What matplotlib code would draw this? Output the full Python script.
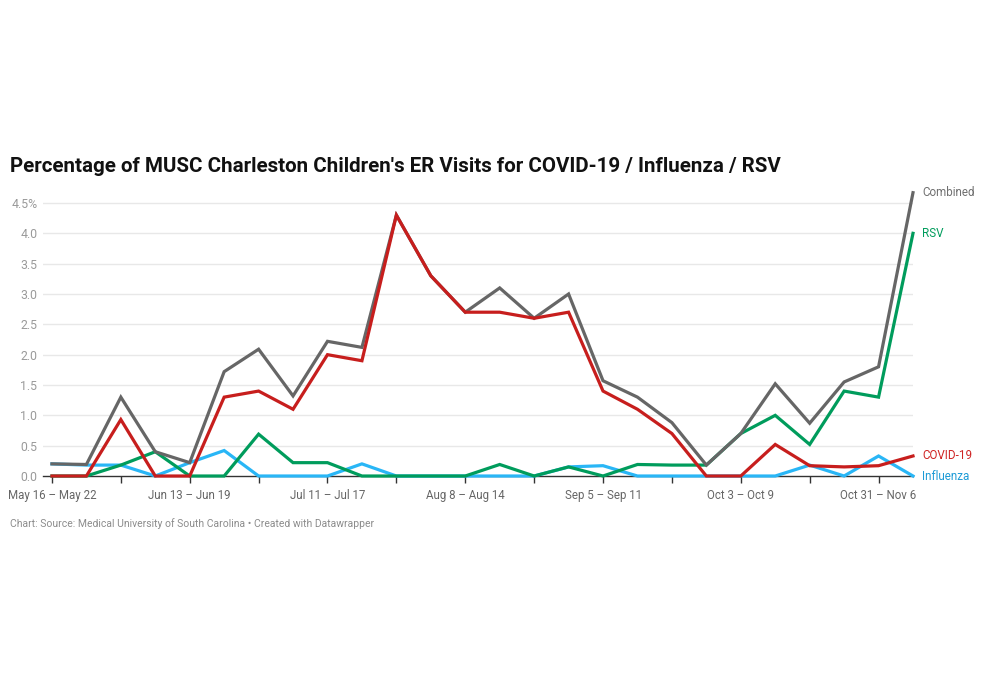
import matplotlib.pyplot as plt

plt.rcParams['font.family'] = ['Roboto', 'DejaVu Sans']

# weekly values, May 16 - May 22 through Nov 7 - Nov 13
weeks = list(range(26))
tick_labels = {0: "May 16 – May 22", 4: "Jun 13 – Jun 19", 8: "Jul 11 – Jul 17",
               12: "Aug 8 – Aug 14", 16: "Sep 5 – Sep 11", 20: "Oct 3 – Oct 9",
               24: "Oct 31 – Nov 6"}

combined = [0.2, 0.19, 1.3, 0.4, 0.22, 1.72, 2.09, 1.32, 2.22, 2.12, 4.3, 3.3, 2.7,
            3.1, 2.6, 3.0, 1.57, 1.3, 0.88, 0.18, 0.7, 1.52, 0.87, 1.55, 1.8, 4.67]
covid = [0, 0, 0.93, 0, 0, 1.3, 1.4, 1.1, 2.0, 1.9, 4.3, 3.3, 2.7,
         2.7, 2.6, 2.7, 1.4, 1.1, 0.7, 0, 0, 0.52, 0.17, 0.15, 0.17, 0.33]
rsv = [0, 0, 0.18, 0.4, 0, 0, 0.69, 0.22, 0.22, 0, 0, 0, 0,
       0.19, 0, 0.15, 0, 0.19, 0.18, 0.18, 0.7, 1.0, 0.52, 1.4, 1.3, 4.0]
flu = [0.2, 0.18, 0.18, 0, 0.22, 0.42, 0, 0, 0, 0.2, 0, 0, 0,
       0, 0, 0.15, 0.17, 0, 0, 0, 0, 0, 0.18, 0, 0.33, 0]

fig = plt.figure(figsize=(10, 6.85), dpi=100)
ax = fig.add_axes([0.043, 0.3051, 0.870, 0.4207])

lw = 2.3
ax.plot(weeks, flu, color='#29b6f6', lw=lw, zorder=3, clip_on=False, solid_joinstyle='miter')
ax.plot(weeks, rsv, color='#009c5c', lw=lw, zorder=4, clip_on=False, solid_joinstyle='miter')
ax.plot(weeks, combined, color='#666666', lw=lw, zorder=5, clip_on=False, solid_joinstyle='miter')
ax.plot(weeks, covid, color='#c71e1d', lw=lw, zorder=6, clip_on=False, solid_joinstyle='miter')

# end labels
lab_kw = dict(fontsize=8.4, va='center', ha='left', transform=ax.transData, clip_on=False)
ax.text(25.27, combined[-1] - 0.0, "Combined", color='#707070', **lab_kw)
ax.text(25.27, rsv[-1], "RSV", color='#009c5c', **lab_kw)
ax.text(25.27, covid[-1], "COVID-19", color='#cf2323', **lab_kw)
ax.text(25.27, flu[-1], "Influenza", color='#1d9bd6', **lab_kw)

ax.set_xlim(-0.26, 25)
ax.set_ylim(0, 4.75)

yt = [0, 0.5, 1.0, 1.5, 2.0, 2.5, 3.0, 3.5, 4.0, 4.5]
ax.set_yticks(yt)
ax.set_yticklabels([f"{v:.1f}" for v in yt[:-1]] + ["4.5%"])
ax.tick_params(axis='y', length=0, pad=4, labelsize=8.8, labelcolor='#9a9a9a')
for v in yt[1:]:
    ax.axhline(v, color='#e8e8e8', lw=1, zorder=1)

ax.set_xticks(list(range(0, 26, 2)))
ax.set_xticklabels([tick_labels.get(i, "") for i in range(0, 26, 2)])
ax.tick_params(axis='x', length=5, width=1, color='#333333', pad=4, labelsize=8.3,
               labelcolor='#666666')

for s in ['top', 'right', 'left']:
    ax.spines[s].set_visible(False)
ax.spines['bottom'].set_color('#333333')
ax.spines['bottom'].set_linewidth(1)
ax.spines['bottom'].set_zorder(2)

fig.text(0.010, 1 - 166 / 685,
         "Percentage of MUSC Charleston Children's ER Visits for COVID-19 / Influenza / RSV",
         fontsize=14.75, fontweight='bold', color='#111111', va='center', ha='left')
fig.text(0.010, 1 - 524 / 685,
         "Chart: Source: Medical University of South Carolina • Created with Datawrapper",
         fontsize=7.45, color='#8c8c8c', va='center', ha='left')

fig.savefig('out.png', dpi=100)
